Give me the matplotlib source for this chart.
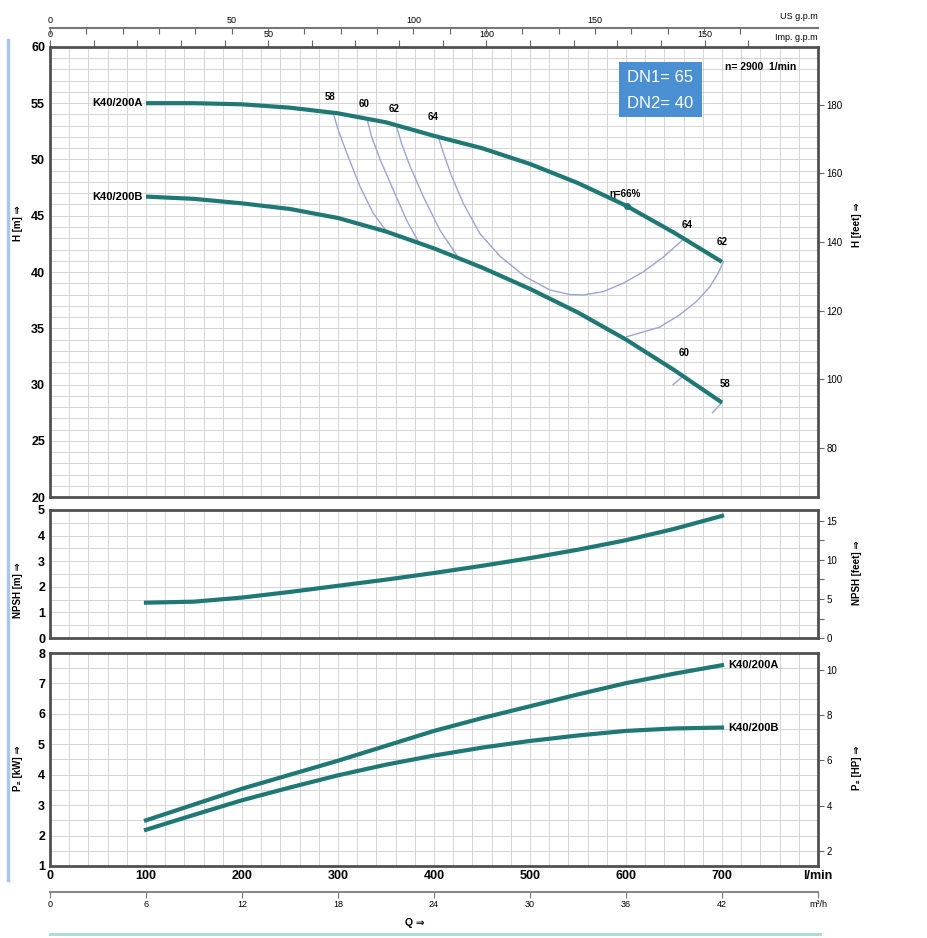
import numpy as np
import matplotlib.pyplot as plt
from matplotlib.patches import Rectangle
from matplotlib.lines import Line2D

plt.rcParams['font.family'] = ['Liberation Sans', 'DejaVu Sans']

# flow (l/min) where the curves were read
q = [100, 150, 200, 250, 300, 350, 400, 450, 500, 550, 600, 650, 700]

# head curves (m)
head_a = [55.0, 55.0, 54.9, 54.6, 54.1, 53.3, 52.1, 51.0, 49.6, 47.9, 45.9, 43.5, 40.9]
head_b = [46.7, 46.5, 46.1, 45.6, 44.8, 43.6, 42.1, 40.4, 38.5, 36.4, 34.0, 31.3, 28.4]

# NPSH (m)
npsh = [1.38, 1.42, 1.58, 1.80, 2.04, 2.28, 2.54, 2.82, 3.12, 3.45, 3.82, 4.26, 4.77]

# power P2 (kW)
power_a = [2.50, 3.02, 3.54, 4.00, 4.46, 4.95, 5.44, 5.86, 6.25, 6.64, 7.01, 7.32, 7.60]
power_b = [2.19, 2.68, 3.16, 3.58, 3.98, 4.33, 4.63, 4.89, 5.11, 5.29, 5.44, 5.52, 5.55]

# iso-efficiency lines (q, h)
iso_58_q = [295.1, 300.3, 309.0, 322.9, 336.8, 350.7]
iso_58_h = [54.1, 52.6, 50.6, 47.6, 45.2, 43.6]
iso_60_q = [330.5, 335.1, 343.8, 357.6, 371.5, 383.7]
iso_60_h = [53.5, 52.0, 50.0, 47.3, 44.6, 42.7]
iso_62_q = [361.1, 366.3, 375.0, 388.9, 406.3, 423.6]
iso_62_h = [52.9, 51.4, 49.4, 46.7, 43.7, 41.5]
iso_64_q = [404.5, 409.7, 418.4, 430.5, 447.9, 468.8, 494.8, 520.8, 541.7, 555.2, 576.0,
            596.9, 617.7, 638.5, 658.3]
iso_64_h = [52.0, 50.6, 48.5, 46.1, 43.4, 41.4, 39.6, 38.4, 38.0, 37.96, 38.25,
            39.0, 40.0, 41.3, 42.8]
iso_62r_q = [701.4, 696.0, 687.5, 673.6, 656.0, 635.0, 600.7]
iso_62r_h = [40.9, 39.9, 38.7, 37.4, 36.2, 35.1, 34.25]
iso_60r_q = [649, 659]
iso_60r_h = [30.0, 30.7]
iso_58r_q = [690, 700]
iso_58r_h = [27.5, 28.4]

iso_labels = ['58', '60', '62', '64']
iso_label_q = [292, 327, 358, 399]
iso_label_h = [55.1, 54.5, 54.0, 53.3]
right_labels = ['64', '62', '60', '58']
right_label_q = [664, 700, 660, 703]
right_label_h = [43.7, 42.2, 32.4, 29.6]

eta_q = 601
eta_h = 45.9

teal = '#1f7874'
iso_col = '#9aa6d2'
grid_col = '#d4d4d4'
frame_col = '#505050'

fig = plt.figure(figsize=(9.28, 9.38), dpi=100)
L, R = 50 / 928, 818 / 928
ax_h = fig.add_axes([L, 0.470, R - L, 0.480])
ax_n = fig.add_axes([L, 0.3198, R - L, 0.1365])
ax_p = fig.add_axes([L, 0.0768, R - L, 0.227])


def style(ax, ymin, ymax, ystep):
    ax.set_xlim(0, 800)
    ax.set_ylim(ymin, ymax)
    ax.set_xticks(np.arange(0, 801, 100))
    ax.set_xticks(np.arange(0, 801, 20), minor=True)
    ax.set_yticks(np.arange(ymin, ymax + 0.01, 1 if ymax - ymin < 20 else 5))
    ax.set_yticks(np.arange(ymin, ymax + 0.01, ystep), minor=True)
    ax.grid(which='both', color=grid_col, lw=0.7)
    ax.set_axisbelow(True)
    for s in ax.spines.values():
        s.set_color(frame_col)
        s.set_linewidth(2)
    ax.tick_params(which='both', length=0, labelsize=9)
    ax.tick_params(axis='x', labelbottom=False)
    for t in ax.get_yticklabels():
        t.set_fontweight('bold')


style(ax_h, 20, 60, 1)
style(ax_n, 0, 5, 0.5)
style(ax_p, 1, 8, 0.5)

# head curves
ax_h.plot(q, head_a, color=teal, lw=3, solid_capstyle='butt', zorder=4)
ax_h.plot(q, head_b, color=teal, lw=3, solid_capstyle='butt', zorder=4)
for xs, ys in [(iso_58_q, iso_58_h), (iso_60_q, iso_60_h), (iso_62_q, iso_62_h),
               (iso_64_q, iso_64_h), (iso_62r_q, iso_62r_h), (iso_60r_q, iso_60r_h),
               (iso_58r_q, iso_58r_h)]:
    ax_h.plot(xs, ys, color=iso_col, lw=1.0, zorder=3)
for lab, x, y in zip(iso_labels, iso_label_q, iso_label_h):
    ax_h.text(x, y, lab, fontsize=7, fontweight='bold', ha='center', va='bottom')
for lab, x, y in zip(right_labels, right_label_q, right_label_h):
    ax_h.text(x, y, lab, fontsize=7, fontweight='bold', ha='center', va='bottom')
ax_h.plot([eta_q], [eta_h], 'o', color=teal, ms=4, zorder=5)
ax_h.text(eta_q - 2, eta_h + 0.6, 'η=66%', fontsize=7, fontweight='bold', ha='center', va='bottom')
ax_h.text(q[0] - 4, head_a[0], 'K40/200A', fontsize=8, fontweight='bold', ha='right', va='center')
ax_h.text(q[0] - 4, head_b[0], 'K40/200B', fontsize=8, fontweight='bold', ha='right', va='center')

ax_h.add_patch(Rectangle((0.741, 0.844), 0.108, 0.123, transform=ax_h.transAxes,
                         facecolor='#4a8fd2', edgecolor='none', zorder=6))
ax_h.text(0.795, 0.932, 'DN1= 65', transform=ax_h.transAxes, color='white', fontsize=12,
          ha='center', va='center', zorder=7)
ax_h.text(0.795, 0.874, 'DN2= 40', transform=ax_h.transAxes, color='white', fontsize=12,
          ha='center', va='center', zorder=7)
ax_h.text(0.879, 0.956, 'n= 2900  1/min', transform=ax_h.transAxes, fontsize=7.5,
          fontweight='bold', ha='left', va='center', zorder=7)

# gpm scales on top
imp = ax_h.secondary_xaxis('top', functions=(lambda x: x / 4.54609, lambda x: x * 4.54609))
imp.set_xticks([0, 50, 100, 150])
imp.set_xticks(np.arange(0, 161, 10), minor=True)
imp.tick_params(which='both', direction='out', length=5, width=0.8, color='#666666',
                labelsize=6.5, pad=1)
imp.spines['top'].set_visible(False)
us = ax_h.secondary_xaxis(1.042, functions=(lambda x: x / 3.78541, lambda x: x * 3.78541))
us.set_xticks([0, 50, 100, 150])
us.set_xticks(np.arange(0, 191, 10), minor=True)
us.tick_params(which='both', direction='in', length=4, width=0.8, color='#666666',
               labelsize=6.5, pad=2)
us.spines['top'].set_color('#777777')
us.spines['top'].set_linewidth(1.5)
ax_h.text(1.0, 1.058, 'US g.p.m', transform=ax_h.transAxes, fontsize=6.5, ha='right', va='bottom')
ax_h.text(1.0, 1.01, 'Imp. g.p.m', transform=ax_h.transAxes, fontsize=6.5, ha='right', va='bottom')

# feet on the right
ft = ax_h.secondary_yaxis('right', functions=(lambda x: x * 3.28084, lambda x: x / 3.28084))
ft.set_yticks(np.arange(80, 181, 20))
ft.tick_params(length=4, width=0.8, color='#666666', labelsize=7, pad=2)
ft.spines['right'].set_visible(False)

# NPSH
ax_n.plot(q, npsh, color=teal, lw=3, zorder=4)
nft = ax_n.secondary_yaxis('right', functions=(lambda x: x * 3.28084, lambda x: x / 3.28084))
nft.set_yticks([0, 5, 10, 15])
nft.set_yticks(np.arange(0, 16, 2.5), minor=True)
nft.tick_params(which='both', length=4, width=0.8, color='#666666', labelsize=7, pad=2)
nft.spines['right'].set_visible(False)

# power
ax_p.plot(q, power_a, color=teal, lw=3, zorder=4)
ax_p.plot(q, power_b, color=teal, lw=3, zorder=4)
ax_p.text(q[-1] + 6, power_a[-1], 'K40/200A', fontsize=8, fontweight='bold', ha='left', va='center')
ax_p.text(q[-1] + 6, power_b[-1], 'K40/200B', fontsize=8, fontweight='bold', ha='left', va='center')
hp = ax_p.secondary_yaxis('right', functions=(lambda x: x * 1.34102, lambda x: x / 1.34102))
hp.set_yticks([2, 4, 6, 8, 10])
hp.tick_params(length=4, width=0.8, color='#666666', labelsize=7, pad=2)
hp.spines['right'].set_visible(False)

ax_p.tick_params(axis='x', labelbottom=True, pad=3, labelsize=9)
ax_p.set_xticklabels([str(v) for v in range(0, 701, 100)] + ['l/min'])
for t in ax_p.get_xticklabels():
    t.set_fontweight('bold')

m3 = ax_p.secondary_xaxis(-0.122, functions=(lambda x: x * 0.06, lambda x: x / 0.06))
m3.set_xticks(np.arange(0, 49, 6))
m3.set_xticklabels([str(v) for v in range(0, 43, 6)] + ['m³/h'])
m3.tick_params(direction='out', length=4, width=0.8, color='#777777', labelsize=6.5, pad=2)
m3.spines['bottom'].set_color('#888888')
m3.spines['bottom'].set_linewidth(1.5)
ax_p.text(0.475, -0.27, 'Q ⇒', transform=ax_p.transAxes, fontsize=7.5, fontweight='bold',
          ha='center', va='center')

# axis titles
ylab = dict(fontsize=7, fontweight='bold', rotation=90, ha='center', va='center')
fig.text(18 / 928, 1 - 223 / 938, 'H [m] ⇒', **ylab)
fig.text(18 / 928, 1 - 590 / 938, 'NPSH [m] ⇒', **ylab)
fig.text(18 / 928, 1 - 768 / 938, 'P₂ [kW] ⇒', **ylab)
fig.text(857 / 928, 1 - 225 / 938, 'H [feet] ⇒', **ylab)
fig.text(857 / 928, 1 - 573 / 938, 'NPSH [feet] ⇒', **ylab)
fig.text(857 / 928, 1 - 768 / 938, 'P₂ [HP] ⇒', **ylab)

# page decorations
fig.add_artist(Line2D([8 / 928, 8 / 928], [1 - 40 / 938, 1 - 880 / 938], color='#a9c6e6', lw=2.5))
fig.add_artist(Line2D([50 / 928, 820 / 928], [1 - 934 / 938, 1 - 934 / 938], color='#a7dcd6', lw=2))

fig.savefig('out.png', dpi=100)
